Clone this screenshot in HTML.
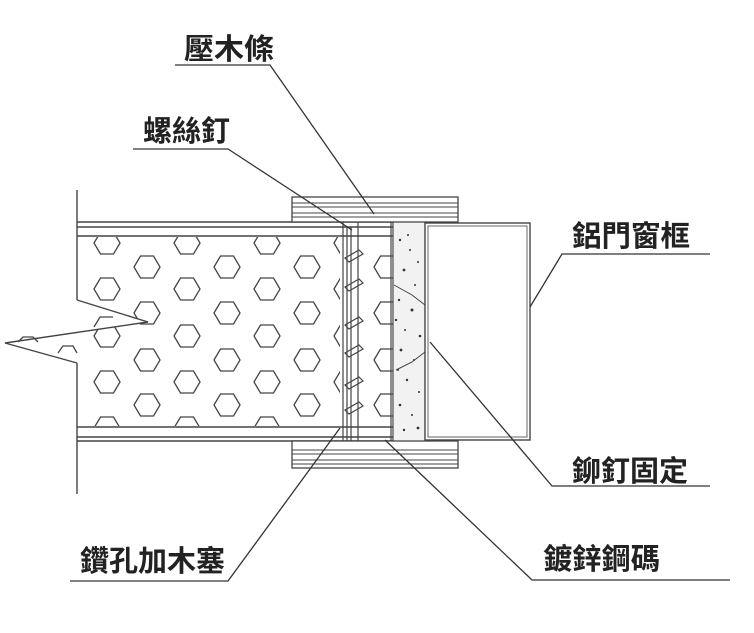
<!DOCTYPE html>
<html><head><meta charset="utf-8"><style>
html,body{margin:0;padding:0;background:#fff;}
svg{display:block}
text{font-family:"Liberation Sans","Noto Sans CJK TC",sans-serif;font-size:29px;font-weight:bold;fill:#222;}
</style></head><body>
<svg width="754" height="633" viewBox="0 0 754 633" xmlns="http://www.w3.org/2000/svg">
<defs>
<clipPath id="core"><rect x="78" y="237" width="262" height="189"/></clipPath>
<clipPath id="core2"><rect x="358" y="237" width="35" height="189"/></clipPath>
<g id="hex"><polygon points="-13,0 -6.5,-11 6.5,-11 13,0 6.5,11 -6.5,11" fill="#fff" stroke="#444" stroke-width="1.3"/></g>
</defs>
<g stroke="#444" stroke-width="1.4" fill="none">
<line x1="77" y1="190" x2="77" y2="300"/>
<line x1="77" y1="363" x2="77" y2="494"/>
<line x1="77" y1="222" x2="393" y2="222"/>
<line x1="77" y1="227" x2="393" y2="227"/>
<line x1="77" y1="236" x2="393" y2="236"/>
<line x1="77" y1="427" x2="393" y2="427"/>
<line x1="77" y1="437" x2="393" y2="437"/>
<line x1="77" y1="441" x2="393" y2="441"/>
</g>
<g clip-path="url(#core)">
<use href="#hex" x="107" y="243"/><use href="#hex" x="107" y="289"/><use href="#hex" x="107" y="336"/><use href="#hex" x="107" y="382"/><use href="#hex" x="107" y="428"/>
<use href="#hex" x="147" y="267"/><use href="#hex" x="147" y="313"/><use href="#hex" x="147" y="360"/><use href="#hex" x="147" y="405"/>
<use href="#hex" x="187" y="243"/><use href="#hex" x="187" y="289"/><use href="#hex" x="187" y="336"/><use href="#hex" x="187" y="382"/><use href="#hex" x="187" y="428"/>
<use href="#hex" x="227" y="267"/><use href="#hex" x="227" y="313"/><use href="#hex" x="227" y="360"/><use href="#hex" x="227" y="405"/>
<use href="#hex" x="267" y="243"/><use href="#hex" x="267" y="289"/><use href="#hex" x="267" y="336"/><use href="#hex" x="267" y="382"/><use href="#hex" x="267" y="428"/>
<use href="#hex" x="307" y="267"/><use href="#hex" x="307" y="313"/><use href="#hex" x="307" y="360"/><use href="#hex" x="307" y="405"/>
<use href="#hex" x="347" y="243"/><use href="#hex" x="347" y="289"/><use href="#hex" x="347" y="336"/><use href="#hex" x="347" y="382"/>
</g>
<g clip-path="url(#core2)">
<use href="#hex" x="387" y="267"/><use href="#hex" x="387" y="313"/><use href="#hex" x="387" y="360"/><use href="#hex" x="387" y="405"/>
</g>
<polygon points="77,300 148,322 5,343 77,363 77,355 20,343 77,325" fill="#fff" stroke="none"/>
<polyline points="77,300 148,322 5,343 77,363" fill="none" stroke="#444" stroke-width="1.4"/>
<g stroke="#444" stroke-width="1.3" fill="none">
<path d="M18,342 l5,-5 h10 l5,5"/><path d="M58,353 l5,-7 h10 l4,7"/>
<path d="M94,327 l6,-10 h13"/>
</g>
<g stroke="#444" stroke-width="1.2" fill="none">
<line x1="343" y1="222" x2="343" y2="441"/>
<line x1="347" y1="227" x2="347" y2="441"/>
<line x1="351" y1="227" x2="351" y2="441"/>
<line x1="358" y1="222" x2="358" y2="441"/>
<line x1="391" y1="222" x2="391" y2="441"/>
<line x1="393" y1="222" x2="393" y2="441"/>
<path d="M345,258 l14,-8 l4,4 l-14,8z"/><path d="M345,287 l14,-8 l4,4 l-14,8z"/>
<path d="M345,325 l14,-8 l4,4 l-14,8z"/><path d="M345,353 l14,-8 l4,4 l-14,8z"/>
<path d="M345,385 l14,-8 l4,4 l-14,8z"/><path d="M345,410 l14,-8 l4,4 l-14,8z"/>
</g>
<rect x="394" y="223" width="31" height="217" fill="#f2f2f2"/>
<g fill="#333">
<circle cx="400" cy="240" r="1.2"/><circle cx="410" cy="250" r="1"/><circle cx="404" cy="270" r="1.4"/><circle cx="418" cy="262" r="1"/>
<circle cx="399" cy="300" r="1.2"/><circle cx="412" cy="310" r="1.5"/><circle cx="405" cy="330" r="1"/><circle cx="420" cy="336" r="1.3"/>
<circle cx="401" cy="350" r="1.4"/><circle cx="414" cy="360" r="1"/><circle cx="407" cy="380" r="1.2"/><circle cx="419" cy="392" r="1"/>
<circle cx="400" cy="405" r="1.3"/><circle cx="412" cy="415" r="1"/><circle cx="404" cy="430" r="1.2"/><circle cx="418" cy="428" r="1.4"/>
<circle cx="415" cy="285" r="1"/><circle cx="398" cy="370" r="1"/><circle cx="408" cy="235" r="1"/><circle cx="396" cy="320" r="1.2"/>
</g>
<g stroke="#444" stroke-width="1" fill="none">
<path d="M394,285 l18,10 l13,10"/><path d="M396,370 l16,-8 l13,-10"/>
</g>
<rect x="425" y="223" width="105" height="217" fill="#fff" stroke="#444" stroke-width="1.4"/>
<rect x="428" y="226" width="99" height="211" fill="none" stroke="#666" stroke-width="1"/>
<g stroke="#444" stroke-width="1.3" fill="#fff">
<rect x="292" y="197" width="166" height="25"/>
<rect x="292" y="441" width="166" height="27"/>
</g>
<g stroke="#444" stroke-width="1.1">
<line x1="292" y1="203" x2="458" y2="203"/><line x1="292" y1="207" x2="458" y2="207"/>
<line x1="292" y1="213" x2="458" y2="213"/><line x1="292" y1="217" x2="458" y2="217"/>
<line x1="292" y1="450" x2="458" y2="450"/><line x1="292" y1="454" x2="458" y2="454"/>
<line x1="292" y1="460" x2="458" y2="460"/><line x1="292" y1="464" x2="458" y2="464"/>
</g>
<g stroke="#333" stroke-width="1.3" fill="none">
<polyline points="175,65 270,65 374,214"/>
<polyline points="133,149 228,149 352,230"/>
<polyline points="710,254 562,254 530,307"/>
<polyline points="710,486 552,486 430,342"/>
<polyline points="730,580 532,580 385,440"/>
<polyline points="70,581 228,581 340,428"/>
</g>
<text x="184" y="59" textLength="90" lengthAdjust="spacingAndGlyphs">壓木條</text>
<text x="143" y="141" textLength="87" lengthAdjust="spacingAndGlyphs">螺絲釘</text>
<text x="572" y="246" textLength="118" lengthAdjust="spacingAndGlyphs">鋁門窗框</text>
<text x="572" y="481" textLength="116" lengthAdjust="spacingAndGlyphs">鉚釘固定</text>
<text x="543" y="569" textLength="117" lengthAdjust="spacingAndGlyphs">鍍鋅鋼碼</text>
<text x="80" y="571" textLength="145" lengthAdjust="spacingAndGlyphs">鑽孔加木塞</text>
</svg>
</body></html>
